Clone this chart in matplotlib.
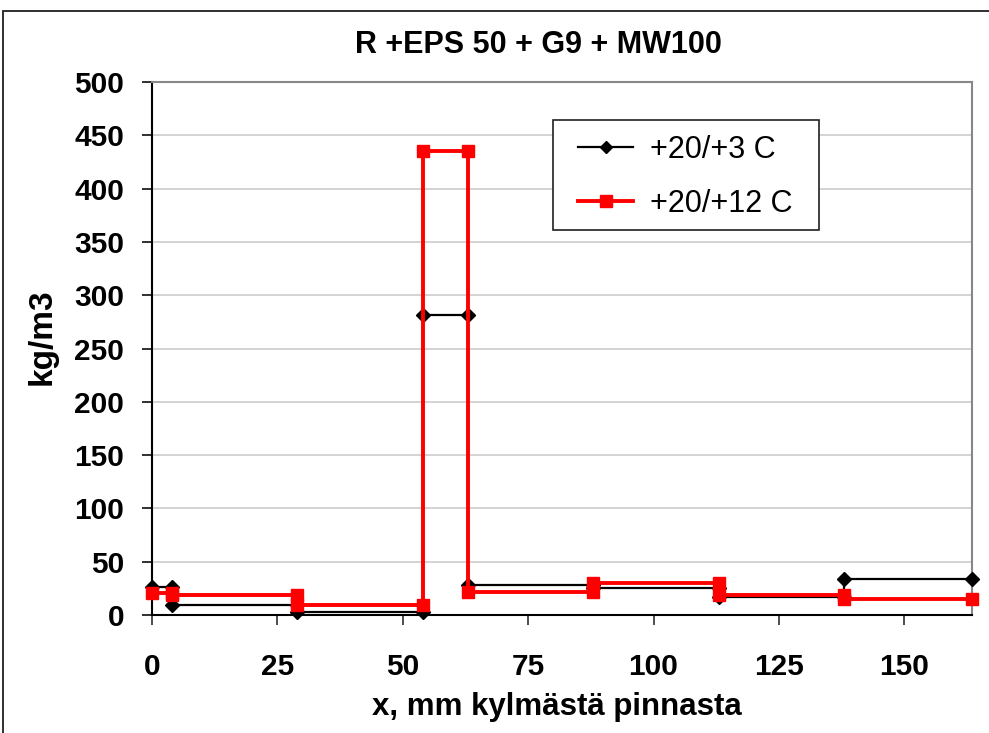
import matplotlib
matplotlib.use("Agg")
import matplotlib.pyplot as plt
from matplotlib.patches import Rectangle
from matplotlib.lines import Line2D

plt.rcParams['font.family'] = ['Liberation Sans', 'DejaVu Sans']

# ---- data ----
title = "R +EPS 50 + G9 + MW100"
xlabel = "x, mm kylmästä pinnasta"
ylabel = "kg/m3"
series_names = ["+20/+3 C", "+20/+12 C"]

x_pts = [0, 4, 4, 29, 29, 54, 54, 63, 63, 88, 88, 113, 113, 138, 138, 163.5]
y_black = [26, 26, 9, 9, 3, 3, 281, 281, 28, 28, 25, 25, 17, 17, 34, 34]
y_red = [21, 21, 19, 19, 9, 9, 435, 435, 22, 22, 30, 30, 19, 19, 15, 15]

x_ticks = [0, 25, 50, 75, 100, 125, 150]
y_ticks = [0, 50, 100, 150, 200, 250, 300, 350, 400, 450, 500]

W, H = 989, 733
fig = plt.figure(figsize=(W / 100, H / 100), dpi=100)

def fx(px):
    return px / W

def fy(py):
    return 1 - py / H

# outer chart frame
fig.add_artist(Rectangle((fx(3), fy(740)), fx(1000), fy(10.5) - fy(740),
                         transform=fig.transFigure, fill=False,
                         edgecolor='#202020', linewidth=1.3))

L, R, T, B = 152, 972, 82, 615
ax = fig.add_axes([fx(L), fy(B), fx(R - L), fy(T) - fy(B)])

ax.plot(x_pts, y_black, color='black', linewidth=1.6, marker='D',
        markersize=7, markerfacecolor='black', markeredgecolor='black',
        clip_on=False, zorder=3, label=series_names[0])
ax.plot(x_pts, y_red, color='#ff0000', linewidth=2.8, marker='s',
        markersize=9, markerfacecolor='#ff0000', markeredgecolor='#ff0000',
        clip_on=False, zorder=4, label=series_names[1])

ax.set_xlim(0, 163.5)
ax.set_ylim(0, 500)
ax.set_xticks(x_ticks)
ax.set_yticks(y_ticks)
ax.set_xticklabels([str(v) for v in x_ticks], fontsize=21.5, fontweight='bold')
ax.set_yticklabels([str(v) for v in y_ticks], fontsize=21.5, fontweight='bold')
ax.tick_params(axis='x', direction='out', length=7.2, width=1.3, pad=20, color='#404040')
ax.tick_params(axis='y', direction='out', length=7.2, width=1.3, pad=12.7, color='#202020')

ax.yaxis.grid(True, color='#c8c8c8', linewidth=1.1)
ax.set_axisbelow(True)

for s in ['left', 'bottom']:
    ax.spines[s].set_color('black')
    ax.spines[s].set_linewidth(1.5)
for s in ['top', 'right']:
    ax.spines[s].set_color('#888888')
    ax.spines[s].set_linewidth(1.5)

# titles / labels
fig.text(fx(538), fy(53), title, fontsize=22, fontweight='bold',
         ha='center', va='baseline')
fig.text(fx(557), fy(715), xlabel, fontsize=22.5, fontweight='bold',
         ha='center', va='baseline')
fig.text(fx(42), fy(337), ylabel, fontsize=24, fontweight='bold',
         ha='center', va='center', rotation=90)

# legend
fig.add_artist(Rectangle((fx(553), fy(230)), fx(818.5 - 553), fy(119.5) - fy(230),
                         transform=fig.transFigure, fill=True, facecolor='white',
                         edgecolor='#202020', linewidth=1.2, zorder=5))
handles = [
    Line2D([0], [0], color='black', linewidth=1.6, marker='D', markersize=6,
           markerfacecolor='black', markeredgecolor='black'),
    Line2D([0], [0], color='#ff0000', linewidth=2.8, marker='s', markersize=9,
           markerfacecolor='#ff0000', markeredgecolor='#ff0000'),
]
leg = fig.legend(handles, series_names, loc='center left',
                 bbox_to_anchor=(fx(554), fy(177)), frameon=False,
                 fontsize=22, handlelength=1.8, handletextpad=0.55,
                 labelspacing=0.78, borderpad=0.3)
leg.set_zorder(6)

fig.savefig("out.png", dpi=100)
